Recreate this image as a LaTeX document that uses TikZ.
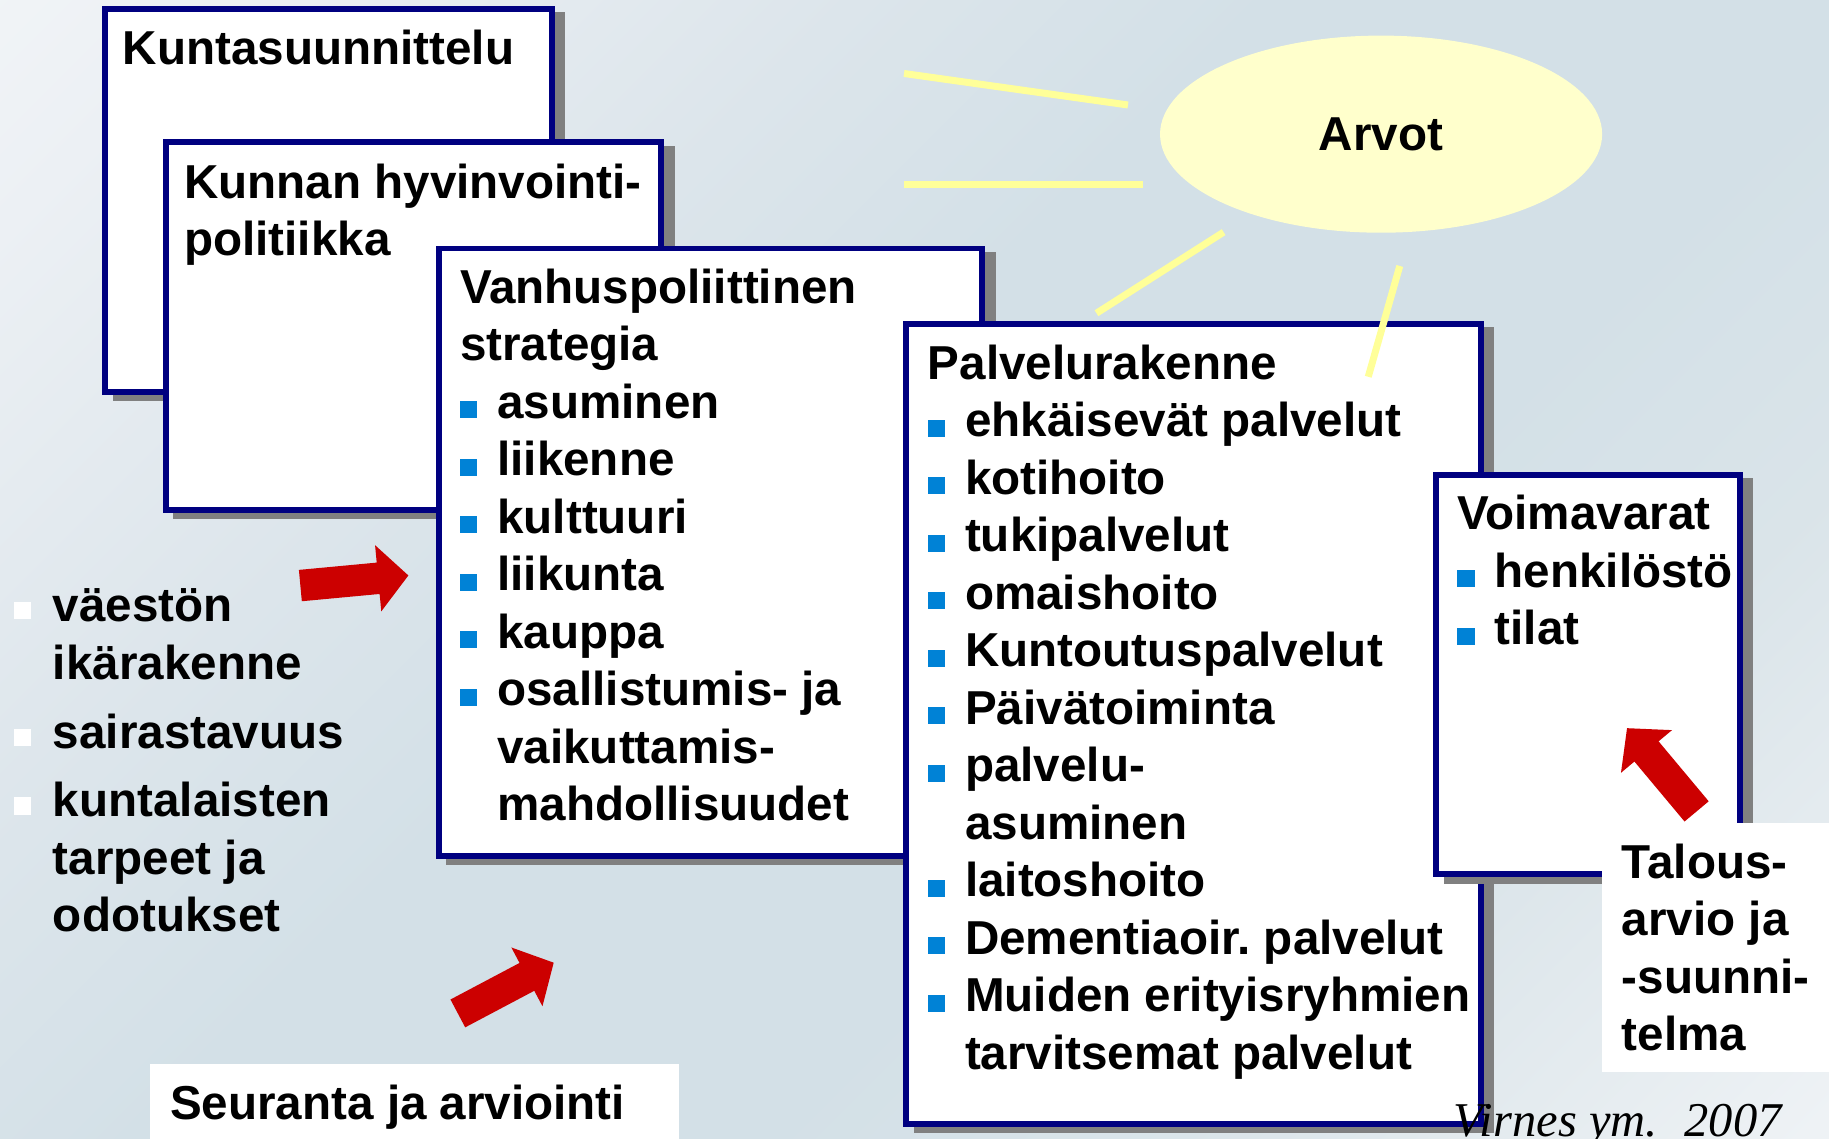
\documentclass[tikz,border=0pt]{standalone}
\usepackage{fontspec}
\setmainfont{Liberation Sans}
\newfontfamily\serifit{Liberation Serif}
\usetikzlibrary{shapes.geometric}

\definecolor{framenavy}{HTML}{000080}
\definecolor{shadowgray}{HTML}{808080}
\definecolor{bulletblue}{HTML}{0082D6}
\definecolor{arrowred}{HTML}{CC0000}
\definecolor{sunyellow}{HTML}{FFFFCC}
\definecolor{raycol}{HTML}{FFFF99}
\definecolor{bgA}{HTML}{FCFDFD}
\definecolor{bgB}{HTML}{ECF0F4}
\definecolor{bgC}{HTML}{DCE5EB}
\definecolor{bgD}{HTML}{D3E0E7}
\definecolor{bgE}{HTML}{DAE4E9}
\definecolor{bgF}{HTML}{EEF2F5}
\definecolor{bgG}{HTML}{FAFBFC}
\pgfdeclarehorizontalshading{bgshade}{100bp}{color(0bp)=(bgA); color(20bp)=(bgB); color(35bp)=(bgC); color(45bp)=(bgD); color(60bp)=(bgD); color(70bp)=(bgE); color(85bp)=(bgF); color(100bp)=(bgG)}

\newcommand{\bsq}{\makebox[16pt][l]{\textcolor{bulletblue}{\rule{7.4pt}{7.4pt}}}}
\newcommand{\wsq}{\makebox[16.75pt][l]{\textcolor{white}{\rule[1pt]{7.5pt}{7.5pt}}}}
\newcommand{\indt}{\hspace*{16pt}}

\begin{document}
\begin{tikzpicture}[x=0.5pt,y=-0.5pt,
    panel/.style={draw=framenavy,line width=2.5pt,fill=white,rectangle,inner sep=0pt,anchor=north west,
      preaction={draw=shadowgray,fill=shadowgray,line width=2.5pt,transform canvas={shift={(4.5pt,-2.75pt)}}}},
    blank/.style={fill=white,rectangle,inner sep=0pt,anchor=north west},
    lbl/.style={font=\fontsize{20.4pt}{24.65pt}\selectfont\bfseries},
    txt/.style={lbl,anchor=base west,inner sep=0pt},
    ray/.style={draw=raycol,line width=3pt},
    bigarrow/.pic={\fill[arrowred] (0,-13.5) -- (67,-13.5) -- (67,-28.5) -- (93,0) -- (67,28.5) -- (67,13.5) -- (0,13.5) -- cycle;}
  ]
  \useasboundingbox (0,0) rectangle (1568,976);
  \clip (0,0) rectangle (1568,976);
  \shade[shading=bgshade,shading angle=-45] (0,0) rectangle (1568,976);

  % suunnittelutasot
  \node[panel,minimum width=191.5pt,minimum height=164.25pt] (kunta) at (87.5,5) {};
  \node[txt] (kuntaT) at (105,55.7) {Kuntasuunnittelu};
  \node[panel,minimum width=212.5pt,minimum height=157.5pt] (hyvin) at (139.5,119.5) {};
  \node[txt] (hyvinT) at (157.5,170) {\begin{tabular}[t]{@{}l@{}}Kunnan hyvinvointi-\\politiikka\end{tabular}};
  \node[panel,minimum width=233pt,minimum height=260.25pt] (vanhus) at (373.5,210.5) {};
  \node[txt] (vanhusT) at (394,260) {\begin{tabular}[t]{@{}l@{}}
    Vanhuspoliittinen\\
    strategia\\
    \bsq asuminen\\
    \bsq liikenne\\
    \bsq kulttuuri\\
    \bsq liikunta\\
    \bsq kauppa\\
    \bsq osallistumis- ja\\
    \indt vaikuttamis-\\
    \indt mahdollisuudet
  \end{tabular}};
  \node[panel,minimum width=246.25pt,minimum height=343pt] (palvelu) at (774.5,275) {};
  \node[txt] (palveluT) at (795,325.2) {\begin{tabular}[t]{@{}l@{}}
    Palvelurakenne\\
    \bsq ehkäisevät palvelut\\
    \bsq kotihoito\\
    \bsq tukipalvelut\\
    \bsq omaishoito\\
    \bsq Kuntoutuspalvelut\\
    \bsq Päivätoiminta\\
    \bsq palvelu-\\
    \indt asuminen\\
    \bsq laitoshoito\\
    \bsq Dementiaoir.\ palvelut\\
    \bsq Muiden erityisryhmien\\
    \indt tarvitsemat palvelut
  \end{tabular}};
  \node[panel,minimum width=130.25pt,minimum height=171.25pt] (voima) at (1228.5,404.5) {};
  \node[txt] (voimaT) at (1249,454.3) {\begin{tabular}[t]{@{}l@{}}
    Voimavarat\\
    \bsq henkilöstö\\
    \bsq tilat
  \end{tabular}};

  % arvot
  \draw[ray] (775,63) -- (967,90);
  \draw[ray] (775,158.5) -- (980,158.5);
  \draw[ray] (940,268.5) -- (1049,199);
  \draw[ray] (1173,323) -- (1200,228);
  \node[ellipse,fill=sunyellow,inner sep=0pt,minimum width=189.5pt,minimum height=84.5pt,lbl] (arvot) at (1184,115) {Arvot};

  \node[txt] (taustaT) at (11.5,533) {\begin{tabular}[t]{@{}l@{}}
    \wsq väestön\\
    \indt\hspace*{0.75pt}ikärakenne\\[5pt]
    \wsq sairastavuus\\[4.7pt]
    \wsq kuntalaisten\\
    \indt\hspace*{0.75pt}tarpeet ja\\
    \indt\hspace*{0.75pt}odotukset
  \end{tabular}};

  \node[blank,minimum width=97.5pt,minimum height=107pt] (talous) at (1373,705) {};
  \node[txt] (talousT) at (1390,753) {\begin{tabular}[t]{@{}l@{}}Talous-\\arvio ja\\-suunni-\\telma\end{tabular}};
  \node[blank,minimum width=227pt,minimum height=35pt] (seuranta) at (128,912) {};
  \node[txt] (seurantaT) at (145.5,959.6) {Seuranta ja arviointi};

  \pic[rotate=5.35] (nuoli1) at (257.5,502) {bigarrow};
  \pic[rotate=27.9] (nuoli2) at (392.5,868.8) {bigarrow};
  \pic[rotate=129.9] (nuoli3) at (1454.5,695.6) {bigarrow};

  \node[anchor=base west,inner sep=0pt,font=\fontsize{20.8pt}{24pt}\selectfont\serifit\itshape] (lahde) at (1246,974) {Virnes ym.\hspace{0.55em}2007};
\end{tikzpicture}
\end{document}
